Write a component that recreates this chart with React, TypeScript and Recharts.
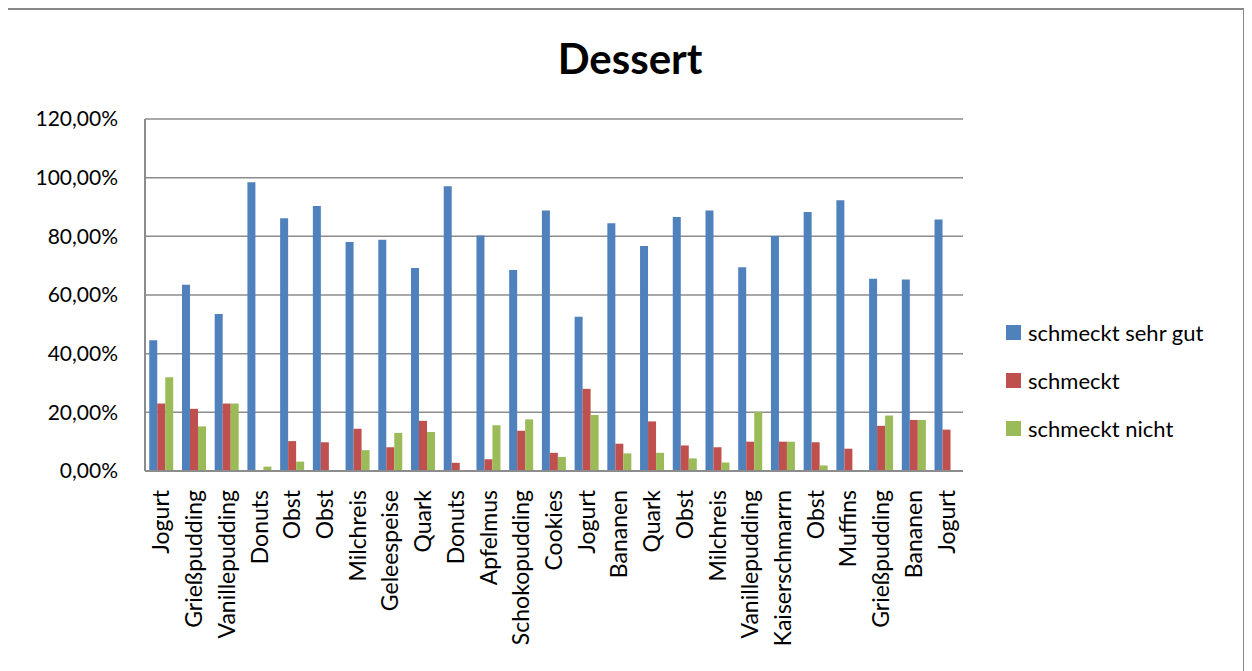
import { BarChart, Bar, XAxis, YAxis, CartesianGrid } from 'recharts';

const categories = [
  'Jogurt', 'Grießpudding', 'Vanillepudding', 'Donuts', 'Obst', 'Obst', 'Milchreis', 'Geleespeise', 'Quark',
  'Donuts', 'Apfelmus', 'Schokopudding', 'Cookies', 'Jogurt', 'Bananen', 'Quark', 'Obst', 'Milchreis',
  'Vanillepudding', 'Kaiserschmarrn', 'Obst', 'Muffins', 'Grießpudding', 'Bananen', 'Jogurt',
];
const sehrGut = [44.6, 63.5, 53.5, 98.4, 86.2, 90.3, 78.1, 78.8, 69.2, 97.1, 80.3, 68.5, 88.8, 52.6, 84.5, 76.7, 86.6, 88.8, 69.5, 80.1, 88.3, 92.3, 65.5, 65.3, 85.7];
const gut = [23.0, 21.2, 23.0, 0, 10.2, 9.8, 14.4, 8.1, 17.1, 2.8, 4.0, 13.7, 6.2, 28.0, 9.3, 16.9, 8.7, 8.1, 10.0, 10.0, 9.8, 7.6, 15.4, 17.4, 14.1];
const nicht = [32.0, 15.2, 23.0, 1.5, 3.2, 0, 7.1, 13.0, 13.3, 0, 15.6, 17.6, 4.8, 19.1, 6.0, 6.2, 4.3, 2.9, 20.2, 10.0, 1.9, 0, 18.9, 17.4, 0];
const yTicks = [0, 20, 40, 60, 80, 100, 120];

const series = [
  { key: 'sehrGut', name: 'schmeckt sehr gut', color: '#4F81BD' },
  { key: 'gut', name: 'schmeckt', color: '#C0504D' },
  { key: 'nicht', name: 'schmeckt nicht', color: '#9BBB59' },
];

const data = categories.map((name, i) => ({ name, sehrGut: sehrGut[i], gut: gut[i], nicht: nicht[i] }));

const FONT = 'Lato, "Open Sans", sans-serif';

const fmt = (v: number) => v.toFixed(2).replace('.', ',') + '%';

function XTick({ x, y, payload }: any) {
  return (
    <text
      x={x}
      y={y}
      transform={`rotate(-90, ${x}, ${y})`}
      dx={-11}
      dy={8}
      textAnchor="end"
      fill="#000"
      fontSize={23}
      fontFamily={FONT}
    >
      {payload.value}
    </text>
  );
}

export default function App() {
  return (
    <div
      style={{
        position: 'relative',
        width: 1238,
        height: 680,
        background: '#fff',
      }}
    >
      <div
        style={{
          position: 'absolute',
          left: -2,
          top: 0,
          width: 1239,
          height: 680,
          border: '2px solid #888',
          boxSizing: 'border-box',
        }}
      />
      <div
        style={{
          position: 'absolute',
          left: 0,
          width: 1244,
          top: 25,
          textAlign: 'center',
          fontFamily: FONT,
          fontWeight: 700,
          fontSize: 42,
          color: '#000',
        }}
      >
        Dessert
      </div>
      <div
        style={{
          position: 'absolute',
          left: 998,
          top: 300,
          fontFamily: FONT,
          fontSize: 22,
          color: '#000',
        }}
      >
        {series.map((s) => (
          <div key={s.key} style={{ display: 'flex', alignItems: 'center', height: 48 }}>
            <span style={{ width: 15, height: 15, background: s.color, marginRight: 7, display: 'inline-block' }} />
            <span>{s.name}</span>
          </div>
        ))}
      </div>
      <BarChart
        width={1238}
        height={660}
        data={data}
        margin={{ top: 111, right: 283, bottom: 7, left: 0 }}
        barCategoryGap="13%"
        barGap={0}
        style={{ position: 'absolute', left: 0, top: 0 }}
      >
        <CartesianGrid vertical={false} stroke="#8c8c8c" strokeWidth={1.5} />
        <XAxis
          dataKey="name"
          interval={0}
          tick={<XTick />}
          tickLine={false}
          axisLine={{ stroke: '#8c8c8c', strokeWidth: 2 }}
          height={190}
        />
        <YAxis
          domain={[0, 120]}
          ticks={yTicks}
          tickFormatter={fmt}
          tick={{ fill: '#000', fontSize: 21, fontFamily: FONT }}
          tickLine={false}
          tickSize={0}
          tickMargin={27}
          axisLine={{ stroke: '#8c8c8c', strokeWidth: 2 }}
          width={137}
        />
        {series.map((s) => (
          <Bar
            key={s.key}
            dataKey={s.key}
            name={s.name}
            fill={s.color}
            isAnimationActive={false}
          />
        ))}
      </BarChart>
    </div>
  );
}
